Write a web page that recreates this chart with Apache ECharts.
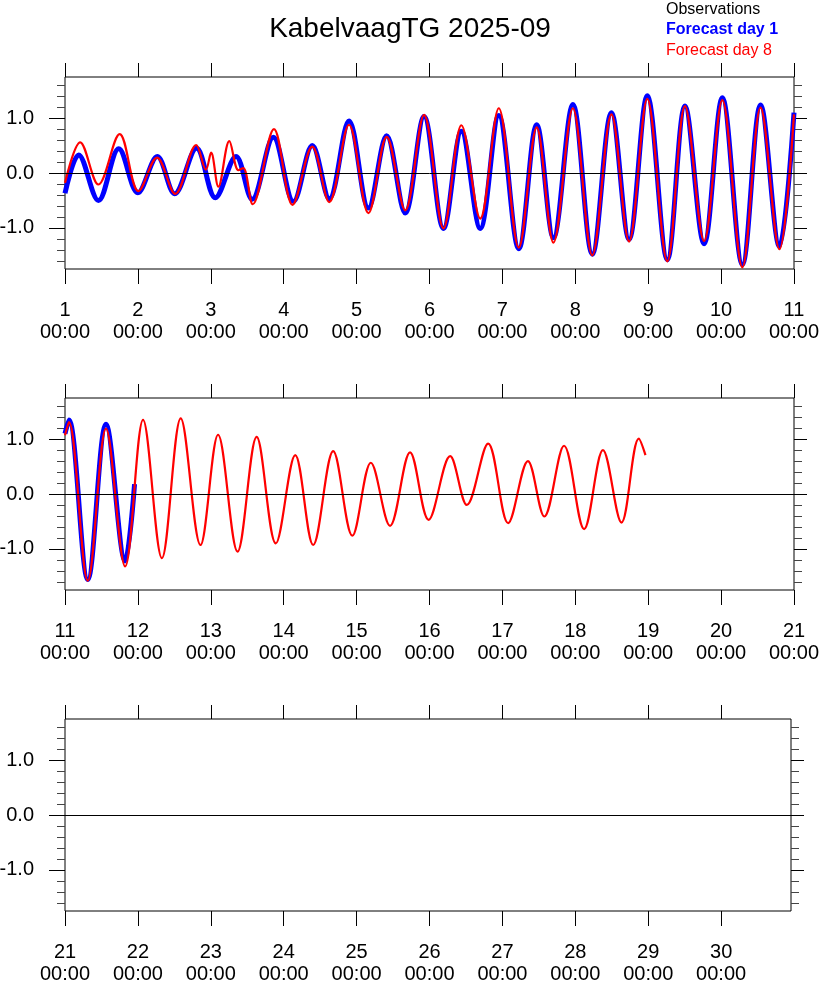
<!DOCTYPE html>
<html>
<head>
<meta charset="utf-8">
<script src="https://cdn.jsdelivr.net/npm/echarts@6/dist/echarts.min.js"></script>
<style>
html,body{margin:0;padding:0;background:#fff;}
#chart{width:820px;height:981px;}
</style>
</head>
<body>
<div id="chart"></div>
<script>
// ---------- data ----------
const titleText = 'KabelvaagTG 2025-09';
const legendNames = ['Observations', 'Forecast day 1', 'Forecast day 8'];

// panels: day-of-month ranges
const panelStart = [1, 11, 21];
const panelEnd = [11, 21, 30 + 23 / 24];
const panelTickDays = [
  [1, 2, 3, 4, 5, 6, 7, 8, 9, 10, 11],
  [11, 12, 13, 14, 15, 16, 17, 18, 19, 20, 21],
  [21, 22, 23, 24, 25, 26, 27, 28, 29, 30]
];
const yMajorValues = [-1, 0, 1];
const yMinorValues = [-1.6, -1.4, -1.2, -0.8, -0.6, -0.4, -0.2, 0.2, 0.4, 0.6, 0.8, 1.2, 1.4, 1.6];

// Observations (none in picture)
const obsHours = [];
const obsVals = [];

// Forecast day 1 (hours since 2025-09-01 00:00, metres)
const fc1Hours = [0, 4.5, 11.0, 17.7, 24.0, 30.4, 36.1, 43.3, 49.5, 56.3,
  61.6, 68.6, 75.2, 81.4, 87.0, 93.5, 99.9, 105.9, 112.0, 118.2,
  124.6, 130.5, 136.7, 142.8, 149.4, 155.3, 160.8, 167.2, 173.6, 179.9,
  185.7, 191.7, 198.3, 204.1, 210.4, 216.4, 223.0, 229.0, 235.2, 240.0,
  241.3, 247.5, 253.5, 259.8, 262.9];
const fc1Vals = [-0.37, 0.33, -0.50, 0.44, -0.36, 0.30, -0.38, 0.45, -0.45, 0.30,
  -0.48, 0.65, -0.52, 0.50, -0.47, 0.95, -0.64, 0.68, -0.73, 1.03,
  -1.01, 0.76, -1.01, 1.05, -1.38, 0.88, -1.18, 1.25, -1.48, 1.10,
  -1.21, 1.41, -1.58, 1.22, -1.29, 1.37, -1.67, 1.24, -1.34, 1.10,
  1.35, -1.56, 1.27, -1.22, 0.18];

// Forecast day 8
const fc8Hours = [0, 5.0, 11.0, 18.0, 24.2, 30.3, 36.3, 43.2, 46.4, 48.1,
  50.5, 54.1, 57.1, 58.7, 61.8, 68.8, 74.9, 81.4, 87.0, 93.5,
  99.9, 105.9, 112.0, 118.2, 124.6, 130.5, 136.7, 142.8, 149.4, 155.3,
  160.8, 167.2, 173.6, 179.9, 185.7, 191.7, 198.3, 204.1, 210.4, 216.4,
  223.0, 229.0, 235.2, 240.0, 241.3, 247.5, 253.5, 259.8, 265.7, 271.9,
  278.1, 284.6, 290.4, 296.8, 303.1, 309.4, 315.8, 321.7, 328.3, 334.6,
  340.7, 347.0, 353.6, 359.7, 366.8, 372.3, 379.3, 385.9, 392.4, 397.8,
  404.3, 410.9, 417.1, 423.2, 428.9, 431.1];
const fc8Vals = [-0.18, 0.56, -0.21, 0.71, -0.33, 0.28, -0.38, 0.51, 0.06, 0.37,
  -0.25, 0.58, 0.05, 0.09, -0.57, 0.80, -0.58, 0.48, -0.53, 0.88,
  -0.73, 0.66, -0.68, 1.06, -1.01, 0.87, -0.83, 1.18, -1.36, 0.83,
  -1.27, 1.18, -1.50, 1.07, -1.25, 1.35, -1.61, 1.22, -1.24, 1.33,
  -1.72, 1.19, -1.39, 1.07, 1.31, -1.58, 1.19, -1.32, 1.35, -1.17,
  1.38, -0.93, 1.08, -1.05, 1.04, -0.90, 0.71, -0.93, 0.78, -0.76,
  0.57, -0.58, 0.76, -0.47, 0.69, -0.20, 0.92, -0.53, 0.60, -0.41,
  0.88, -0.64, 0.80, -0.52, 1.01, 0.71];

// ---------- build ----------
const FONT = '"Liberation Sans", Arial, Helvetica, sans-serif';
const toPairs = (hours, vals) => hours.map((h, i) => [1 + h / 24, vals[i]]);
const inPanel = (data, i) => data.filter(p => p[0] >= panelStart[i] - 1e-9 && p[0] <= panelEnd[i] + 1e-9);
const obsData = toPairs(obsHours, obsVals);
const fc1Data = toPairs(fc1Hours, fc1Vals);
const fc8Data = toPairs(fc8Hours, fc8Vals);

const gridTops = [77, 398, 719];
const gridWidths = [729, 729, 726];

const grids = [], xAxes = [], yAxes = [], series = [];
for (let i = 0; i < 3; i++) {
  grids.push({
    left: 65, top: gridTops[i], width: gridWidths[i], height: 192,
    show: true, borderColor: '#000', borderWidth: 1, backgroundColor: 'transparent',
    containLabel: false, outerBoundsMode: 'none'
  });
  const ticks = panelTickDays[i];
  xAxes.push({
    gridIndex: i, type: 'value', position: 'bottom',
    min: panelStart[i], max: panelEnd[i],
    axisLine: { show: false, onZero: false }, splitLine: { show: false },
    axisTick: { show: true, inside: false, length: 15, customValues: ticks,
      lineStyle: { color: '#000', width: 1 } },
    axisLabel: { show: true, customValues: ticks, margin: 30,
      formatter: v => v + '\n00:00',
      fontSize: 20, lineHeight: 22, color: '#000', fontFamily: FONT }
  });
  xAxes.push({
    gridIndex: i, type: 'value', position: 'top',
    min: panelStart[i], max: panelEnd[i],
    axisLine: { show: false, onZero: false }, splitLine: { show: false },
    axisTick: { show: true, inside: false, length: 14, customValues: ticks,
      lineStyle: { color: '#000', width: 1 } },
    axisLabel: { show: false }
  });
  const yBase = { gridIndex: i, type: 'value', min: -1.75, max: 1.75,
    axisLine: { show: false, onZero: false }, splitLine: { show: false } };
  yAxes.push(Object.assign({}, yBase, {
    position: 'left',
    axisTick: { show: true, length: 16, customValues: yMajorValues, lineStyle: { color: '#000' } },
    axisLabel: { show: true, customValues: yMajorValues, margin: 31,
      formatter: v => v.toFixed(1), fontSize: 20, color: '#000', fontFamily: FONT }
  }));
  yAxes.push(Object.assign({}, yBase, {
    position: 'left',
    axisTick: { show: true, length: 8, customValues: yMinorValues, lineStyle: { color: '#444' } },
    axisLabel: { show: false }
  }));
  yAxes.push(Object.assign({}, yBase, {
    position: 'right',
    axisTick: { show: true, length: 13, customValues: yMajorValues, lineStyle: { color: '#000' } },
    axisLabel: { show: false }
  }));
  yAxes.push(Object.assign({}, yBase, {
    position: 'right',
    axisTick: { show: true, length: 8, customValues: yMinorValues, lineStyle: { color: '#444' } },
    axisLabel: { show: false }
  }));

  const common = { type: 'line', xAxisIndex: 2 * i, yAxisIndex: 4 * i,
    showSymbol: false, symbol: 'none', smooth: 0.35, clip: true, silent: true, animation: false };
  series.push(Object.assign({}, common, {
    name: legendNames[0], data: inPanel(obsData, i), lineStyle: { color: '#000', width: 2 }, z: 1,
    markLine: { silent: true, symbol: 'none', animation: false, label: { show: false },
      lineStyle: { color: '#000', width: 1, type: 'solid' }, data: [{ yAxis: 0 }] }
  }));
  series.push(Object.assign({}, common, {
    name: legendNames[1], data: inPanel(fc1Data, i), lineStyle: { color: '#0000ff', width: 5 }, z: 2 }));
  series.push(Object.assign({}, common, {
    name: legendNames[2], data: inPanel(fc8Data, i), lineStyle: { color: '#ff0000', width: 2.2 }, z: 3 }));
}

const option = {
  animation: false,
  backgroundColor: '#fff',
  title: [
    { text: titleText, left: 'center', top: 15, padding: 0,
      textStyle: { fontSize: 28, fontWeight: 'normal', color: '#000', fontFamily: FONT, lineHeight: 28 } },
    { text: '{o|' + legendNames[0] + '}\n{b|' + legendNames[1] + '}\n{r|' + legendNames[2] + '}',
      left: 666, top: -1, padding: 0,
      textStyle: { fontWeight: 'normal', fontSize: 16, rich: {
        o: { color: '#000', fontSize: 16, lineHeight: 20.5, fontWeight: 'normal', fontFamily: FONT },
        b: { color: '#0000ff', fontSize: 16, lineHeight: 20.5, fontWeight: 'bold', fontFamily: FONT },
        r: { color: '#ff0000', fontSize: 16, lineHeight: 20.5, fontWeight: 'normal', fontFamily: FONT }
      } } }
  ],
  grid: grids,
  xAxis: xAxes,
  yAxis: yAxes,
  series: series
};

const chart = echarts.init(document.getElementById('chart'), null, { renderer: 'canvas' });
chart.setOption(option);
</script>
</body>
</html>
